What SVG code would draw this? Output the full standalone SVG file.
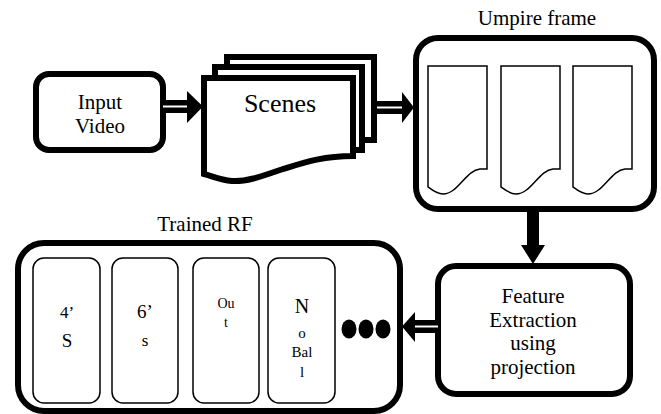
<svg xmlns="http://www.w3.org/2000/svg" width="661" height="414" viewBox="0 0 661 414">
<style>
.box{fill:#fff;stroke:#000;stroke-width:6}
.thin{fill:#fff;stroke:#000;stroke-width:1.5}
.ar{fill:#000}
.wl{stroke:#fff;stroke-width:2}
</style>
<rect width="661" height="414" fill="#fff"/>
<g font-family="Liberation Serif, Times New Roman, serif" text-anchor="middle" fill="#000">
<g id="input-video">
<rect class="box" x="36" y="74" width="127" height="76" rx="13"/>
<text x="100" y="109" font-size="21">Input</text>
<text x="100" y="133" font-size="21">Video</text>
</g>
<g id="scenes">
<rect class="box" x="227" y="57" width="147" height="83"/>
<rect class="box" x="215" y="67" width="147" height="83"/>
<path class="box" d="M204,78 H353 V156 C320,156 300,164 280,170 C260,177 245,182 232,181 C220,180 212,176 204,174 Z"/>
<text x="280" y="112" font-size="26">Scenes</text>
</g>
<g id="umpire-frame">
<text x="537" y="25" font-size="21">Umpire frame</text>
<rect class="box" x="416" y="38" width="238" height="171" rx="22"/>
<path class="thin" d="M428,66 H487 V169 H480 C466,170 458,194 443,194 C437,194 432,190 428,187 Z"/>
<path class="thin" d="M501,66 H560 V169 H553 C539,170 531,194 516,194 C510,194 505,190 501,187 Z"/>
<path class="thin" d="M573,66 H632 V169 H625 C611,170 603,194 588,194 C582,194 577,190 573,187 Z"/>
</g>
<g id="feature-extraction">
<rect class="box" x="438" y="266" width="192" height="128" rx="18"/>
<text x="533" y="303" font-size="21">Feature</text>
<text x="533" y="327" font-size="21">Extraction</text>
<text x="533" y="350" font-size="21">using</text>
<text x="533" y="374" font-size="21">projection</text>
</g>
<g id="trained-rf">
<text x="205" y="231" font-size="21">Trained RF</text>
<rect class="box" x="18" y="243" width="382" height="168" rx="26"/>
<rect class="thin" x="33" y="258" width="67" height="145" rx="11"/>
<rect class="thin" x="112" y="258" width="66" height="145" rx="11"/>
<rect class="thin" x="193" y="258" width="66" height="145" rx="11"/>
<rect class="thin" x="268" y="258" width="67" height="145" rx="11"/>
<text x="67" y="318" font-size="17">4’</text>
<text x="67" y="347" font-size="19">S</text>
<text x="145" y="318" font-size="19">6’</text>
<text x="145" y="346" font-size="17">s</text>
<text x="226" y="308" font-size="14">Ou</text>
<text x="226" y="327" font-size="14">t</text>
<text x="302" y="313" font-size="20">N</text>
<text x="302" y="338" font-size="15">o</text>
<text x="302" y="357" font-size="15">Bal</text>
<text x="302" y="377" font-size="15">l</text>
<ellipse cx="349" cy="329" rx="7.5" ry="9.5"/>
<ellipse cx="366" cy="329" rx="7.5" ry="9.5"/>
<ellipse cx="383" cy="329" rx="7.5" ry="9.5"/>
</g>
</g>
<g id="connectors">
<rect class="ar" x="163" y="100" width="25" height="13"/>
<line class="wl" x1="163" y1="106.5" x2="190" y2="106.5"/>
<polygon class="ar" points="187,91 203,106.5 187,123"/>
<rect class="ar" x="374" y="101" width="30" height="13"/>
<line class="wl" x1="377" y1="107.5" x2="405" y2="107.5"/>
<polygon class="ar" points="402,92 414,107.5 402,123"/>
<polygon class="ar" points="527,212 539,212 539,245 545,245 533,264 521,245 527,245"/>
<rect class="ar" x="413" y="320" width="25" height="13"/>
<line class="wl" x1="411" y1="326.5" x2="438" y2="326.5"/>
<polygon class="ar" points="415,312 402,326.5 415,342"/>
</g>
</svg>
